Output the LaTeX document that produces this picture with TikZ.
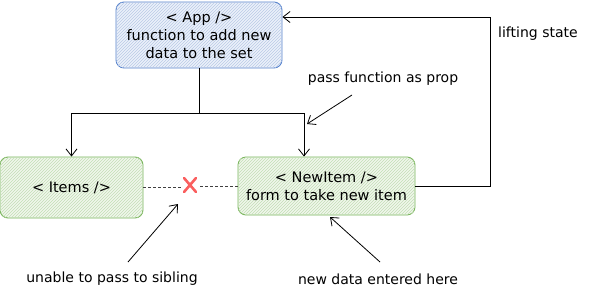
\documentclass[tikz,border=0pt]{standalone}
\usepackage{fontspec}
\setmainfont{DejaVu Sans}
\usetikzlibrary{arrows.meta,patterns,positioning}
\definecolor{appdraw}{RGB}{86,130,205}
\definecolor{appfill}{RGB}{236,241,250}
\definecolor{appline}{RGB}{185,202,230}
\definecolor{grdraw}{RGB}{120,180,90}
\definecolor{grfill}{RGB}{240,247,236}
\definecolor{grline}{RGB}{195,222,182}
\definecolor{xred}{RGB}{250,95,95}
\tikzset{
  box/.style={rounded corners=8pt, line width=0.9pt, align=center, inner sep=0pt, font=\fontsize{14.5}{18}\selectfont},
  appbox/.style={box, draw=appdraw, fill=appfill, postaction={pattern=north east lines, pattern color=appline}},
  grbox/.style={box, draw=grdraw, fill=grfill, postaction={pattern=north east lines, pattern color=grline}},
  conn/.style={line width=0.8pt, black},
  arr/.style={conn, -{Straight Barb[length=7pt,width=11pt]}},
  lbl/.style={font=\fontsize{14}{16}\selectfont, inner sep=0pt},
  dsh/.style={line width=0.7pt, dash pattern=on 2.5pt off 2.5pt, black!75},
}
\begin{document}
\begin{tikzpicture}[x=1pt,y=-1pt]
\useasboundingbox (0,0) rectangle (591,295);
\node[appbox, minimum width=166pt, minimum height=66pt] (app) at (199,35) {< App />\\function to add new\\data to the set};
\node[grbox, minimum width=143pt, minimum height=61pt] (items) at (71.5,187.5) {< Items />};
\node[grbox, minimum width=177pt, minimum height=58pt] (newitem) at (326.5,186) {< NewItem />\\form to take new item};
% red X
\coordinate (xc) at (190,185);
\draw[xred, line width=2.6pt, line cap=round] ([shift={(-6,-7)}]xc) -- ([shift={(6,7)}]xc);
\draw[xred, line width=2.6pt, line cap=round] ([shift={(6,-7)}]xc) -- ([shift={(-6,7)}]xc);
\draw[dsh] (items.east |- 0,187) -- (181,187);
\draw[dsh] (200,186) -- (newitem.west |- 0,186);
% tree connector
\coordinate (jn) at (199,113);
\draw[conn] (app.south) -- (jn);
\draw[arr] (jn) -| (items.north);
\draw[arr] (jn) -| (newitem.north -| 304,0);
% lifting state
\coordinate (ls1) at (490,186);
\coordinate (ls2) at (490,17);
\draw[arr] (newitem.east |- 0,186) -- (ls1) -- (ls2) -- (app.east |- 0,17);
\node[lbl, anchor=west] (lift) at (498,34) {lifting state};
% labels
\node[lbl] (pass) at (383,79) {pass function as prop};
\coordinate (passa) at (352,95);
\draw[arr] (passa) -- (307,124);
\node[lbl] (unable) at (112,279) {unable to pass to sibling};
\coordinate (unablea) at (128,262);
\draw[arr] (unablea) -- (178,204);
\node[lbl] (newdata) at (378,279) {new data entered here};
\coordinate (newdataa) at (380,262);
\draw[arr] (newdataa) -- (330,217);
\end{tikzpicture}
\end{document}
